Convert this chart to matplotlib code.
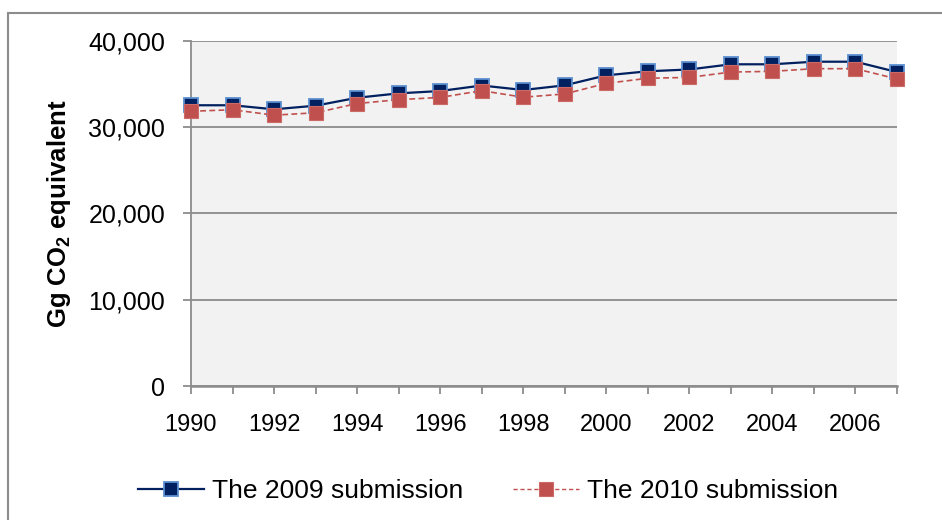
import matplotlib
matplotlib.use("Agg")
import matplotlib.pyplot as plt
from matplotlib.ticker import FuncFormatter, MultipleLocator
from matplotlib.patches import Rectangle
from matplotlib.lines import Line2D

plt.rcParams['font.family'] = ['Liberation Sans', 'DejaVu Sans']
plt.rcParams['mathtext.default'] = 'regular'

years = list(range(1990, 2008))
sub_2009 = [32550, 32550, 32080, 32500, 33420, 33930, 34200, 34840, 34320, 34860,
            36020, 36490, 36700, 37300, 37300, 37600, 37600, 36400]
sub_2010 = [31850, 32030, 31400, 31680, 32750, 33200, 33460, 34240, 33480, 33860,
            35090, 35680, 35780, 36400, 36480, 36790, 36790, 35600]
series_labels = ['The 2009 submission', 'The 2010 submission']
y_label = 'Gg CO$_2$ equivalent'

fig = plt.figure(figsize=(9.42, 5.2), dpi=100)
ax = fig.add_axes([191 / 942, 1 - 386 / 520, 706 / 942, 345 / 520])
ax.set_facecolor('#f2f2f2')

# outer chart frame
fig.patches.append(Rectangle((8 / 942, -0.05), 1.2, 1 - 13 / 520 + 0.05,
                             transform=fig.transFigure, fill=False,
                             edgecolor='#8c8c8c', linewidth=1.5, zorder=0))

navy = '#002060'
red = '#c0504d'

ax.plot(years, sub_2009, color=navy, linewidth=1.6, marker='s', markersize=9.5,
        markerfacecolor=navy, markeredgecolor='#5b8fd0', markeredgewidth=1.3,
        zorder=3, clip_on=False)
ax.plot(years, sub_2010, color=red, linewidth=1.2, linestyle=(0, (3.5, 2)),
        marker='s', markersize=10.5, markerfacecolor=red,
        markeredgecolor='#cc6a67', markeredgewidth=0.8, zorder=4, clip_on=False)

ax.set_xlim(1990, 2007)
ax.set_ylim(0, 40000)
ax.yaxis.set_major_locator(MultipleLocator(10000))
ax.yaxis.set_major_formatter(FuncFormatter(lambda v, p: f'{int(v):,}'))
ax.xaxis.set_major_locator(MultipleLocator(2))
ax.xaxis.set_minor_locator(MultipleLocator(1))

ax.grid(axis='y', color='#8c8c8c', linewidth=1.3)
ax.set_axisbelow(True)
for s in ['top', 'right']:
    ax.spines[s].set_visible(False)
ax.spines['left'].set_color('#8c8c8c')
ax.spines['left'].set_linewidth(1.3)
ax.spines['bottom'].set_color('#8c8c8c')
ax.spines['bottom'].set_linewidth(1.8)

ax.tick_params(axis='both', which='both', direction='out', color='#8c8c8c',
               width=1.3, length=5.5)
ax.tick_params(axis='x', which='both', pad=15, labelsize=17)
ax.tick_params(axis='y', pad=13, labelsize=18)

ax.set_ylabel(y_label, fontsize=18.5, fontweight='bold', labelpad=11)

handles = [
    Line2D([], [], color=navy, linewidth=1.6, marker='s', markersize=9.5,
           markerfacecolor=navy, markeredgecolor='#5b8fd0', markeredgewidth=1.3),
    Line2D([], [], color=red, linewidth=1.0, linestyle=(0, (3, 2)), marker='s',
           markersize=10.5, markerfacecolor=red, markeredgecolor='#cc6a67',
           markeredgewidth=0.8),
]
fig.legend(handles, series_labels, loc='center', bbox_to_anchor=(0.518, 1 - 491 / 520),
           ncol=2, frameon=False, fontsize=19, handlelength=2.5,
           handletextpad=0.3, columnspacing=1.9)

fig.savefig('out.png', dpi=100)
